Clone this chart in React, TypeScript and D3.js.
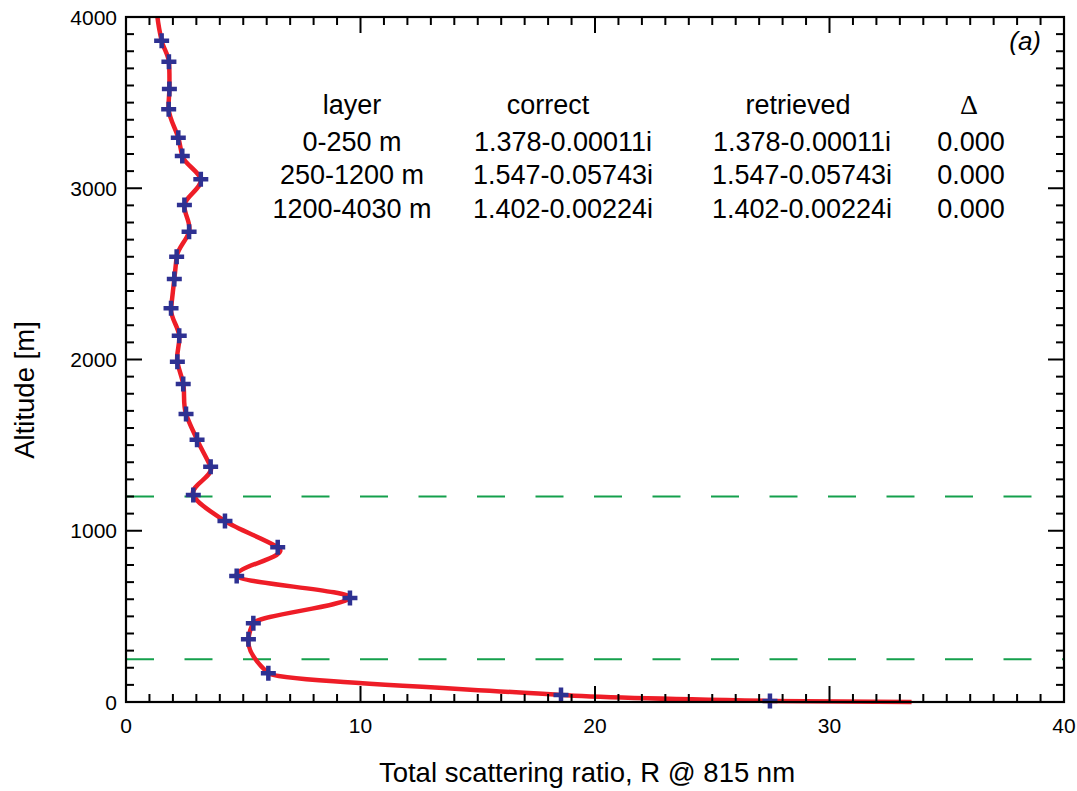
import React from "react";
import * as d3 from "d3";

// ---- data ----
const altitudes = [3862, 3739, 3580, 3461, 3295, 3188, 3052, 2902, 2746, 2600, 2470, 2299, 2139, 1987, 1857, 1682, 1532, 1374, 1209, 1057, 904, 736, 607, 460, 366, 168, 41, 6];
const ratios = [1.52, 1.83, 1.85, 1.82, 2.23, 2.40, 3.19, 2.49, 2.69, 2.16, 2.06, 1.92, 2.27, 2.19, 2.44, 2.56, 3.03, 3.61, 2.87, 4.22, 6.47, 4.72, 9.55, 5.43, 5.22, 6.07, 18.55, 27.46];
const curveTop = { alt: 4030, r: 1.32 };
const curveBottom = { alt: 0, r: 33.5 };
const layerBounds = [250, 1200];

const xTicks = [0, 10, 20, 30, 40];
const yTicks = [0, 1000, 2000, 3000, 4000];

const tableHeader = ["layer", "correct", "retrieved", "\u0394"];
const tableLayers = ["0-250 m", "250-1200 m", "1200-4030 m"];
const tableCorrect = ["1.378-0.00011i", "1.547-0.05743i", "1.402-0.00224i"];
const tableRetrieved = ["1.378-0.00011i", "1.547-0.05743i", "1.402-0.00224i"];
const tableDelta = ["0.000", "0.000", "0.000"];

// ---- layout ----
const W = 1077, H = 791;
const L = 126, R = 1064, T = 17, B = 702;

// custom d3 curve: Akima spline with x as a function of y
function curveAkimaY(context: any) {
  let xs: number[] = [], ys: number[] = [];
  return {
    areaStart() {}, areaEnd() {},
    lineStart() { xs = []; ys = []; },
    point(x: number, y: number) { xs.push(+x); ys.push(+y); },
    lineEnd() {
      const n = xs.length;
      if (!n) return;
      context.moveTo(xs[0], ys[0]);
      if (n === 1) return;
      if (n === 2) { context.lineTo(xs[1], ys[1]); return; }
      const h: number[] = [];
      const d: number[] = [];
      for (let i = 0; i < n - 1; i++) {
        h.push(ys[i + 1] - ys[i]);
        d.push((xs[i + 1] - xs[i]) / h[i]);
      }
      // extended secant slopes: index k -> e[k+2]
      const e: number[] = new Array(n + 3);
      for (let i = 0; i < n - 1; i++) e[i + 2] = d[i];
      e[1] = 2 * e[2] - e[3];
      e[0] = 2 * e[1] - e[2];
      e[n + 1] = 2 * e[n] - e[n - 1];
      e[n + 2] = 2 * e[n + 1] - e[n];
      const m: number[] = [];
      for (let i = 0; i < n; i++) {
        const dm2 = e[i], dm1 = e[i + 1], d0 = e[i + 2], d1 = e[i + 3];
        const w1 = Math.abs(d1 - d0), w2 = Math.abs(dm1 - dm2);
        if (w1 + w2 < 1e-12) m.push((dm1 + d0) / 2);
        else m.push((w1 * dm1 + w2 * d0) / (w1 + w2));
      }
      for (let i = 0; i < n - 1; i++) {
        const hh = h[i];
        context.bezierCurveTo(
          xs[i] + m[i] * hh / 3, ys[i] + hh / 3,
          xs[i + 1] - m[i + 1] * hh / 3, ys[i + 1] - hh / 3,
          xs[i + 1], ys[i + 1]
        );
      }
    },
  };
}

export default function App() {
  const x = d3.scaleLinear().domain([0, 40]).range([L, R]);
  const y = d3.scaleLinear().domain([0, 4000]).range([B, T]);

  const pts = [
    [curveTop.r, curveTop.alt],
    ...altitudes.map((a, i) => [ratios[i], a]),
    [curveBottom.r, curveBottom.alt],
  ];
  const line = d3.line<number[]>().x((d) => x(d[0])).y((d) => y(d[1])).curve(curveAkimaY as any);

  const xMinor = d3.range(0, 41, 1);
  const yMinor = d3.range(0, 4001, 100);
  const font = "'Liberation Sans', Arial, Helvetica, sans-serif";
  const black = "#000";

  const colX = [352, 563, 802, 971];
  const headX = [352, 548, 798, 969];
  const rowY = [151, 184, 218];

  return (
    <svg width={W} height={H} style={{ position: "absolute", left: 0, top: 0, background: "#fff" }} fontFamily={font}>
      <defs>
        <clipPath id="plotClip">
          <rect x={L} y={T} width={R - L + 20} height={B - T + 20} />
        </clipPath>
      </defs>

      {/* dashed layer boundaries */}
      {layerBounds.map((b) => (
        <line key={b} x1={L} x2={R} y1={y(b)} y2={y(b)} stroke="#14a04c" strokeWidth={2} strokeDasharray="28,30.5" />
      ))}

      {/* profile curve */}
      <path d={line(pts) || ""} fill="none" stroke="#ee1d27" strokeWidth={4.5} clipPath="url(#plotClip)" strokeLinejoin="round" />

      {/* crosses */}
      {altitudes.map((a, i) => (
        <path key={i} transform={`translate(${x(ratios[i])},${y(a)})`} d="M-7.5,0H7.5M0,-7.5V7.5" stroke="#2e3192" strokeWidth={4.5} />
      ))}

      {/* ticks */}
      {xMinor.map((v) => {
        const len = v % 10 === 0 ? 16 : 8;
        return (
          <g key={"xt" + v} stroke={black} strokeWidth={2}>
            <line x1={x(v)} x2={x(v)} y1={B} y2={B - len} />
            <line x1={x(v)} x2={x(v)} y1={T} y2={T + len} />
          </g>
        );
      })}
      {yMinor.map((v) => {
        const len = v % 1000 === 0 ? 16 : 8;
        return (
          <g key={"yt" + v} stroke={black} strokeWidth={2}>
            <line x1={L} x2={L + len} y1={y(v)} y2={y(v)} />
            <line x1={R} x2={R - len} y1={y(v)} y2={y(v)} />
          </g>
        );
      })}

      {/* frame */}
      <rect x={L} y={T} width={R - L} height={B - T} fill="none" stroke={black} strokeWidth={2.2} />

      {/* tick labels */}
      {xTicks.map((v) => (
        <text key={"xl" + v} x={x(v)} y={733} textAnchor="middle" fontSize={21}>{v}</text>
      ))}
      {yTicks.map((v) => (
        <text key={"yl" + v} x={117} y={y(v) + 7.5} textAnchor="end" fontSize={21}>{v}</text>
      ))}

      {/* axis titles */}
      <text x={587} y={782} textAnchor="middle" fontSize={27.5}>Total scattering ratio, R @ 815 nm</text>
      <text transform={`translate(34,390) rotate(-90)`} textAnchor="middle" fontSize={27.5}>Altitude [m]</text>

      {/* panel label */}
      <text x={1041} y={50} textAnchor="end" fontSize={26} fontStyle="italic">(a)</text>

      {/* table */}
      {tableHeader.map((h, i) => (
        <text key={"h" + i} x={headX[i]} y={114} textAnchor="middle" fontSize={i === 3 ? 28 : 27}
          fontFamily={i === 3 ? "'Liberation Serif', 'DejaVu Serif', serif" : font}>{h}</text>
      ))}
      {tableLayers.map((s, r) => (
        <g key={"row" + r} fontSize={27}>
          <text x={colX[0]} y={rowY[r]} textAnchor="middle">{s}</text>
          <text x={colX[1]} y={rowY[r]} textAnchor="middle">{tableCorrect[r]}</text>
          <text x={colX[2]} y={rowY[r]} textAnchor="middle">{tableRetrieved[r]}</text>
          <text x={colX[3]} y={rowY[r]} textAnchor="middle">{tableDelta[r]}</text>
        </g>
      ))}
    </svg>
  );
}
